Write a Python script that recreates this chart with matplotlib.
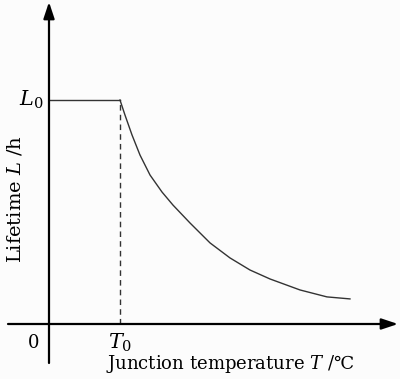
import matplotlib.pyplot as plt

plt.rcParams["font.family"] = "DejaVu Serif"
plt.rcParams["mathtext.fontset"] = "dejavuserif"

# normalised units: T0 = 1, L0 = 1
T0 = 1.0
L0 = 1.0
curve_T = [1.0, 1.070, 1.169, 1.282, 1.423, 1.592, 1.746, 1.986, 2.268,
           2.549, 2.831, 3.113, 3.535, 3.915, 4.239]
curve_L = [1.0, 0.933, 0.844, 0.754, 0.665, 0.589, 0.531, 0.451, 0.362,
           0.295, 0.241, 0.201, 0.152, 0.121, 0.112]

fig = plt.figure(figsize=(4.0, 3.79), dpi=100, facecolor="#fcfcfc")
ax = fig.add_axes([0, 0, 1, 1])
ax.set_facecolor("#fcfcfc")
ax.axis("off")
# 1 T unit = 71 px, 1 L unit = 224 px, origin at pixel (49, 324)
ax.set_xlim(-49 / 71, 351 / 71)
ax.set_ylim(-55 / 224, 324 / 224)

# axes with arrows
arrow = dict(arrowstyle="-|>,head_length=0.9,head_width=0.3", mutation_scale=11,
             lw=1.6, color="black", shrinkA=0, shrinkB=0)
ax.annotate("", xy=(349 / 71, 0), xytext=(-41 / 71, 0), arrowprops=arrow)
ax.annotate("", xy=(0, 322 / 224), xytext=(0, -39 / 224), arrowprops=arrow)

# lifetime curve
ax.plot([0, T0], [L0, L0], color="#333333", lw=1.0)
ax.plot(curve_T, curve_L, color="#333333", lw=1.0)
ax.plot([T0, T0], [0, L0], color="#333333", lw=1.0, ls=(0, (4, 3)))

# labels
ax.text(-0.08, L0, r"$L_\mathrm{0}$", fontsize=15, ha="right", va="center")
ax.text(T0, -0.035, r"$T_\mathrm{0}$", fontsize=15, ha="center", va="top")
ax.text(-0.22, -0.085, "0", fontsize=13, ha="center", va="center")
ax.text(2.55, -0.18, r"Junction temperature $T$ /℃", fontsize=13,
        ha="center", va="center")
ax.text(-0.48, 0.56, r"Lifetime $L$ /h", fontsize=14, rotation=90,
        ha="center", va="center")

plt.savefig("out.png", dpi=100, facecolor=fig.get_facecolor())
